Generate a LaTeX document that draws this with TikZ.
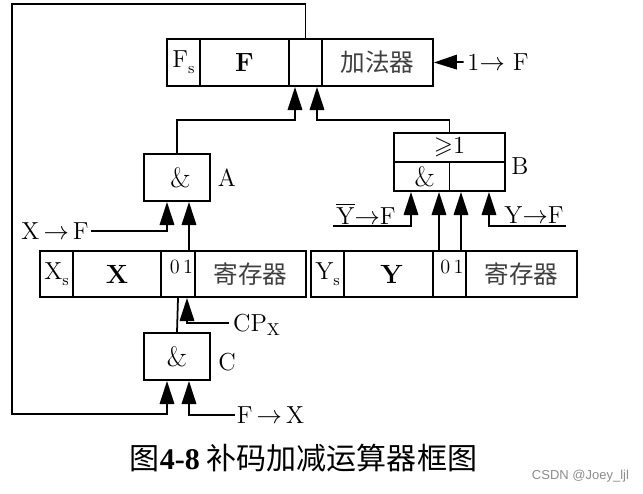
\documentclass[tikz,border=0pt]{standalone}
\usepackage{amssymb}
\usepackage{fontspec}
\newfontfamily\cjk{Noto Sans CJK SC}
\newfontfamily\markfont{Liberation Sans}
\usetikzlibrary{arrows.meta}
\tikzset{
  cell/.style={draw,line width=1pt,minimum height=0.93cm,inner sep=0pt,font=\fontsize{14}{16}\selectfont},
  gate/.style={cell,minimum width=1.32cm,font=\fontsize{16}{18}\selectfont},
  lbl/.style={font=\fontsize{14}{16}\selectfont,inner sep=2pt},
  flow/.style={line width=1pt,-{Triangle[length=0.46cm,width=0.29cm]}},
  wire/.style={line width=1pt}
}
\begin{document}
\begin{tikzpicture}
  % bounding box
  \useasboundingbox (0,0) rectangle (12.86,9.86);
  % Adder
  \node[cell,minimum width=0.66cm] (sumSign) at (3.67,8.61) {F\raisebox{-0.6ex}{\fontsize{9}{9}\selectfont s}};
  \node[cell,minimum width=1.78cm] (sumF) at (4.89,8.61) {\fontsize{15}{16}\selectfont\textbf{F}};
  \node[cell,minimum width=0.66cm] (sumCell) at (6.11,8.61) {};
  \node[cell,minimum width=2.22cm,text=black!75] (sumName) at (7.55,8.61) {\cjk 加法器};
  % X register
  \node[cell,minimum width=0.66cm] (xSign) at (1.13,4.38) {X\raisebox{-0.6ex}{\fontsize{9}{9}\selectfont s}};
  \node[cell,minimum width=1.76cm] (xBody) at (2.34,4.38) {\fontsize{15}{16}\selectfont\textbf{X}};
  \node[cell,minimum width=0.68cm] (xCell) at (3.56,4.38) {};
  \node[cell,minimum width=2.22cm,text=black!75] (xName) at (5.01,4.38) {\cjk 寄存器};
  \node[font=\fontsize{11.5}{13}\selectfont,inner sep=0pt] (xBits) at (3.63,4.52) {0\,1};
  % Y register
  \node[cell,minimum width=0.66cm] (ySign) at (6.55,4.38) {Y\raisebox{-0.6ex}{\fontsize{9}{9}\selectfont s}};
  \node[cell,minimum width=1.78cm] (yBody) at (7.77,4.38) {\hspace{0.12cm}\fontsize{15}{16}\selectfont\textbf{Y}};
  \node[cell,minimum width=0.66cm] (yCell) at (8.99,4.38) {};
  \node[cell,minimum width=2.22cm,text=black!75] (yName) at (10.43,4.38) {\cjk 寄存器};
  \node[font=\fontsize{11.5}{13}\selectfont,inner sep=0pt] (yBits) at (9.04,4.52) {0\,1};
  % Gates
  \node[gate] (aGate) at (3.54,6.31) {\hspace{0.14cm}\&};
  \node[gate] (cGate) at (3.54,2.73) {\&};
  \node[cell,minimum width=2.22cm,minimum height=0.58cm] (bOr) at (8.99,6.91) {\raisebox{-0.5ex}{$\geqslant$1}};
  \node[cell,minimum width=1.11cm,minimum height=0.58cm,font=\fontsize{16}{18}\selectfont] (bAnd) at (8.435,6.33) {\hspace{0.12cm}\&};
  \node[cell,minimum width=1.11cm,minimum height=0.58cm] (bRest) at (9.545,6.33) {};
  % Labels
  \node[lbl] (aName) at (4.54,6.30) {A};
  \node[lbl] (bName) at (10.40,6.54) {B};
  \node[lbl] (cName) at (4.54,2.62) {C};
  \node[lbl,inner sep=1pt,xshift=0.02cm] (xToF) at (1.08,5.24) {X\,$\rightarrow$\,F};
  \node[lbl] (oneToF) at (9.96,8.62) {1$\rightarrow$ F};
  \node[lbl] (notYToF) at (7.32,5.58) {$\overline{\mathrm{Y}}$$\rightarrow$F};
  \node[lbl] (yToF) at (10.68,5.56) {Y$\rightarrow$F};
  \node[lbl,inner sep=1pt] (fToX) at (5.41,1.56) {F\,$\rightarrow$\,X};
  \node[lbl,inner sep=3pt] (cpLabel) at (5.14,3.36) {CP$_{\mathrm{X}}$};
  \node[font=\cjk\fontsize{17.1}{20}\selectfont,inner sep=0pt] (title) at (6.07,0.70) {图\textbf{\fontspec{Liberation Serif}4-8} 补码加减运算器框图};
  \node[font=\markfont\fontsize{7.4}{9}\selectfont,text=black!45,inner sep=0pt] (mark) at (11.61,0.34) {CSDN @Joey\_ljl};
  % Wire ends
  \coordinate (sumIn1) at (5.90,8.12);
  \coordinate (sumIn2) at (6.34,8.12);
  \coordinate (sumJoinA) at (5.90,7.46);
  \coordinate (sumJoinB) at (6.34,7.46);
  \coordinate (loopTop) at (0.24,9.78);
  \coordinate (loopLow) at (0.24,1.58);
  \coordinate (aIn1) at (3.34,5.82);
  \coordinate (aIn2) at (3.78,5.82);
  \coordinate (aFeed) at (3.78,4.84);
  \coordinate (cIn1) at (3.34,2.24);
  \coordinate (cIn2) at (3.78,2.24);
  \coordinate (xClk) at (3.74,3.90);
  \coordinate (cpEnd) at (4.58,3.40);
  \coordinate (bIn1) at (8.22,6.02);
  \coordinate (bIn2) at (8.78,6.02);
  \coordinate (bIn3) at (9.22,6.02);
  \coordinate (bIn4) at (9.78,6.02);
  \coordinate (bFeed2) at (8.78,4.84);
  \coordinate (bFeed3) at (9.22,4.84);
  \coordinate (notYEnd) at (6.66,5.34);
  \coordinate (yEnd) at (11.32,5.34);
  % Connectors
  \draw[flow] (sumCell.north) |- (loopTop) -- (loopLow) -| (cIn1);
  \draw[flow] (aGate.north) |- (sumJoinA) -- (sumIn1);
  \draw[flow] (bOr.north) |- (sumJoinB) -- (sumIn2);
  \draw[flow] (oneToF.west) -- (sumName.east);
  \draw[flow] (xToF.east) -| (aIn1);
  \draw[flow] (aFeed) -- (aIn2);
  \draw[wire] (cGate.north) -- (xCell.south);
  \draw[flow] (cpEnd) -| (xClk);
  \draw[flow] (fToX.west) -| (cIn2);
  \draw[flow] (notYEnd) -| (bIn1);
  \draw[flow] (bFeed2) -- (bIn2);
  \draw[flow] (bFeed3) -- (bIn3);
  \draw[flow] (yEnd) -| (bIn4);
\end{tikzpicture}
\end{document}
